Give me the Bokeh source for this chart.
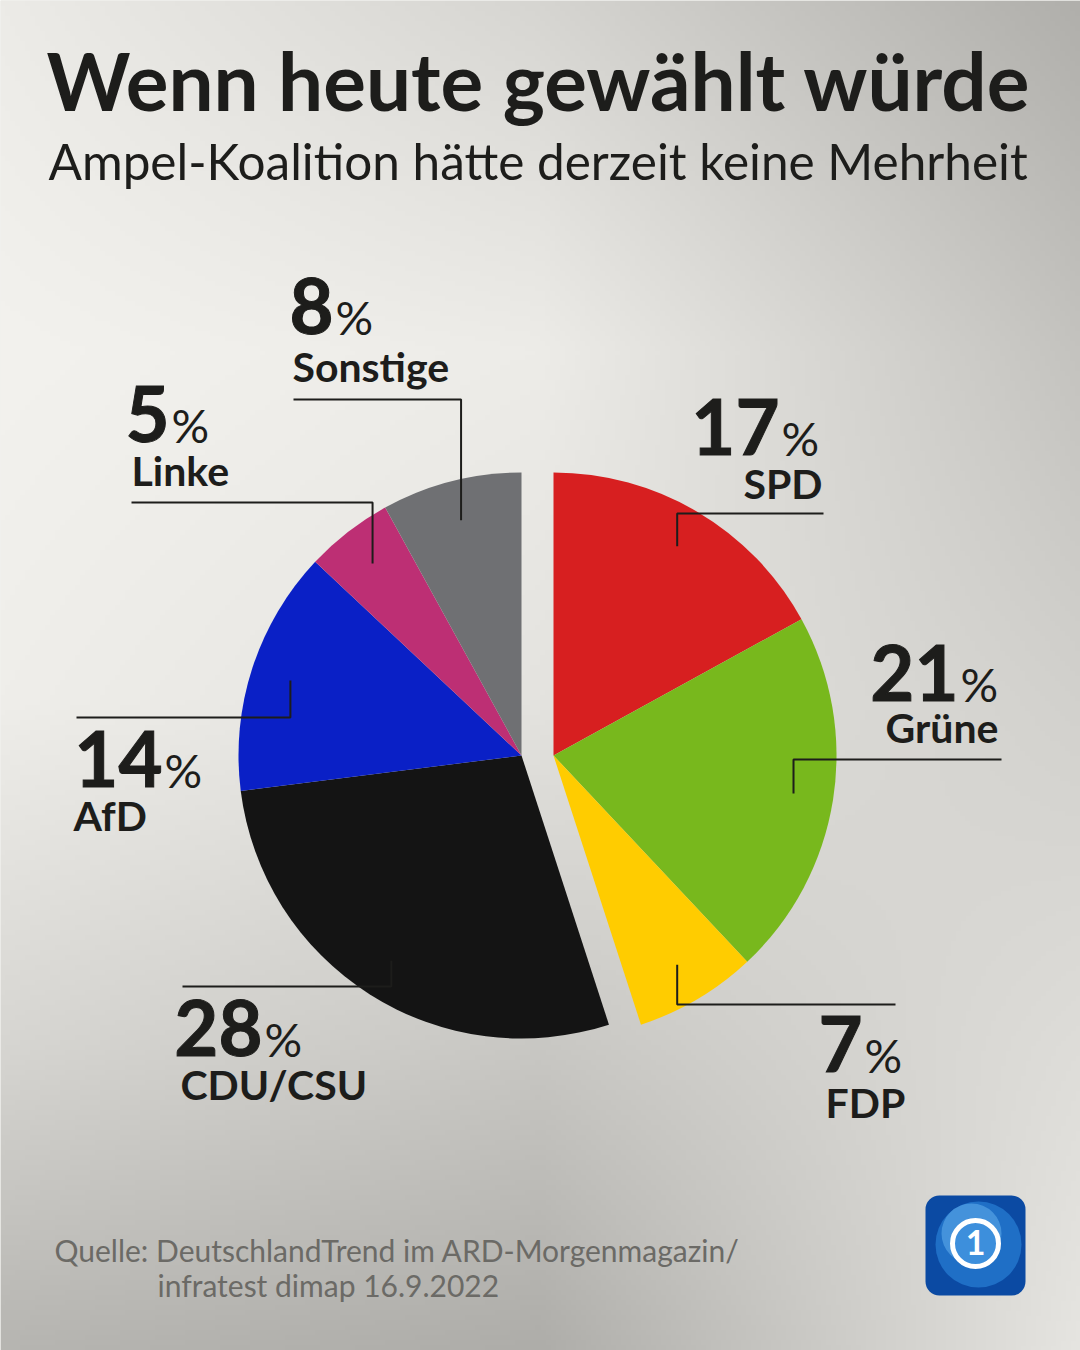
import numpy as np
from bokeh.plotting import figure
from bokeh.models import Range1d, ColumnDataSource, BoxAnnotation
from bokeh.core.properties import value
from bokeh.embed import file_html
from bokeh.resources import INLINE

# ---------------- data ----------------
parties = ["SPD", "Grüne", "FDP", "CDU/CSU", "AfD", "Linke", "Sonstige"]
shares = [17, 21, 7, 28, 14, 5, 8]
colors = ["#d71f20", "#78b81d", "#ffcc00", "#141414", "#0a20c6", "#bd2f74", "#6f7073"]
exploded = ["SPD", "Grüne", "FDP"]

title = "Wenn heute gewählt würde"
subtitle = "Ampel-Koalition hätte derzeit keine Mehrheit"
source_lines = ["Quelle: DeutschlandTrend im ARD-Morgenmagazin/", "infratest dimap 16.9.2022"]

# ---------------- layout ----------------
W, H = 1080, 1350
FONT = "Lato"
CX, CY = 521, 755          # pie centre (image coords, y down)
R = 283
EXPLODE_DX = 32
LEADER_R = 243
INK = "#1d1d1b"
BASE_K = 0.387             # renderer places text ~0.387 em lower than the alphabetic baseline

def Y(v):
    return H - v

def TY(baseline, size):
    return H - (baseline - BASE_K * size)

# label layout: split x between number and %, number baseline, name x, name align, name baseline,
# leader horizontal y, leader outer x
label_layout = {
    "SPD":      (781, 456, 822, "right", 499, 513, 823),
    "Grüne":    (960, 702, 998, "right", 743, 759, 1001),
    "FDP":      (864, 1073, 825, "left", 1118, 1004, 895),
    "CDU/CSU":  (264, 1057, 180, "left", 1100, 986, 182),
    "AfD":      (164, 788, 73, "left", 831, 717, 76),
    "Linke":    (171, 443, 131, "left", 486, 502, 131),
    "Sonstige": (335, 335, 292, "left", 382, 399, 293),
}

p = figure(width=W, height=H, x_range=Range1d(0, W), y_range=Range1d(0, H),
           output_backend="svg", toolbar_location=None,
           x_axis_location=None, y_axis_location=None, min_border=0)
p.grid.visible = False
p.outline_line_color = None
p.background_fill_color = "#e4e3de"
p.border_fill_color = "#e4e3de"

# ---------------- background gradient (coarse grid, bilinear) ----------------
grid_x = np.array([0, 540, 1080])
grid_y = np.array([0, 350, 700, 1050, 1350])
grid_v = np.array([
    [236, 214, 176],
    [243, 237, 196],
    [239, 228, 210],
    [214, 200, 222],
    [182, 174, 230],
], dtype=float)
gw, gh = 216, 270
gx = (np.arange(gw) + 0.5) * W / gw
gy = (np.arange(gh) + 0.5) * H / gh
rows = np.array([np.interp(gx, grid_x, grid_v[j]) for j in range(len(grid_y))])
L = np.array([np.interp(gy, grid_y, rows[:, i]) for i in range(gw)]).T
Rch = np.clip(L, 0, 255).astype(np.uint32)
Gch = np.clip(L - 1, 0, 255).astype(np.uint32)
Bch = np.clip(L - 5, 0, 255).astype(np.uint32)
img = (255 << 24) | (Bch << 16) | (Gch << 8) | Rch
img = img[::-1, :]
bg = p.image_rgba(image=[img.astype(np.uint32)], x=0, y=0, dw=W, dh=H)
bg.level = "image"

# ---------------- pie ----------------
total = float(sum(shares))
cum = np.cumsum([0] + shares) / total
starts = cum[:-1]
ends = cum[1:]
mids = (starts + ends) / 2
cx = [CX + (EXPLODE_DX if party in exploded else 0) for party in parties]
cy = [Y(CY)] * len(parties)
src = ColumnDataSource(dict(
    x=cx, y=cy, party=parties, color=colors,
    start=[np.pi / 2 - 2 * np.pi * s for s in starts],
    end=[np.pi / 2 - 2 * np.pi * e for e in ends],
))
p.wedge(x="x", y="y", radius=R, start_angle="start", end_angle="end",
        direction="clock", fill_color="color", line_color=None, source=src)

# ---------------- leaders ----------------
xs, ys = [], []
for i, party in enumerate(parties):
    th = 2 * np.pi * mids[i]
    ex = cx[i] + LEADER_R * np.sin(th)
    ey = CY - LEADER_R * np.cos(th)
    lay = label_layout[party]
    ly, lx = lay[5], lay[6]
    xs.append([ex, ex, lx])
    ys.append([Y(ey), Y(ly), Y(ly)])
p.multi_line(xs=xs, ys=ys, line_color=INK, line_width=2)

# ---------------- labels ----------------
NUM, PCT, NAME = 76, 47, 41
for i, party in enumerate(parties):
    sx, nb, nx_, nal, nbl, _, _ = label_layout[party]
    p.text(x=[sx - 2], y=[TY(nb, NUM)], text=[str(shares[i])], text_font=value(FONT),
           text_font_style="bold", text_font_size=f"{NUM}px", text_color=INK,
           text_outline_color=INK,
           text_align="right", text_baseline="alphabetic")
    p.text(x=[sx], y=[TY(nb, PCT)], text=["%"], text_font=value(FONT),
           text_font_size=f"{PCT}px", text_color=INK,
           text_align="left", text_baseline="alphabetic")
    p.text(x=[nx_], y=[TY(nbl, NAME)], text=[party], text_font=value(FONT),
           text_font_style="bold", text_font_size=f"{NAME}px", text_color=INK,
           text_align=nal, text_baseline="alphabetic")

# ---------------- titles ----------------
p.text(x=[46], y=[TY(110, 80)], text=[title], text_font=value(FONT), text_font_style="bold",
       text_font_size="80px", text_color=INK, text_baseline="alphabetic")
p.text(x=[48], y=[TY(180, 49.5)], text=[subtitle], text_font=value(FONT),
       text_font_size="49.5px", text_color=INK, text_baseline="alphabetic")

p.text(x=[54], y=[TY(1261, 30)], text=[source_lines[0]], text_font=value(FONT),
       text_font_size="30px", text_color="#6b6a66", text_baseline="alphabetic")
p.text(x=[157], y=[TY(1296, 30)], text=[source_lines[1]], text_font=value(FONT),
       text_font_size="30px", text_color="#6b6a66", text_baseline="alphabetic")

# ---------------- logo ----------------
logo = BoxAnnotation(left=925, right=1025, bottom=Y(1295), top=Y(1195),
                     fill_color="#0b4aa3", fill_alpha=1, line_color=None,
                     border_radius=14, level="underlay")
p.add_layout(logo)
p.circle(x=[978], y=[Y(1244)], radius=43, fill_color="#1f6fc6", line_color=None)
p.circle(x=[971], y=[Y(1233)], radius=30, fill_color="#63aeec", line_color=None, fill_alpha=0.55)
p.circle(x=[975], y=[Y(1243)], radius=23, fill_color="#3d8fdc", line_color="white", line_width=5)
p.text(x=[975], y=[TY(1255, 34)], text=["1"], text_font=value(FONT), text_font_style="bold",
       text_font_size="34px", text_color="white", text_align="center", text_baseline="alphabetic")

open("out.html", "w").write(file_html(p, INLINE))
